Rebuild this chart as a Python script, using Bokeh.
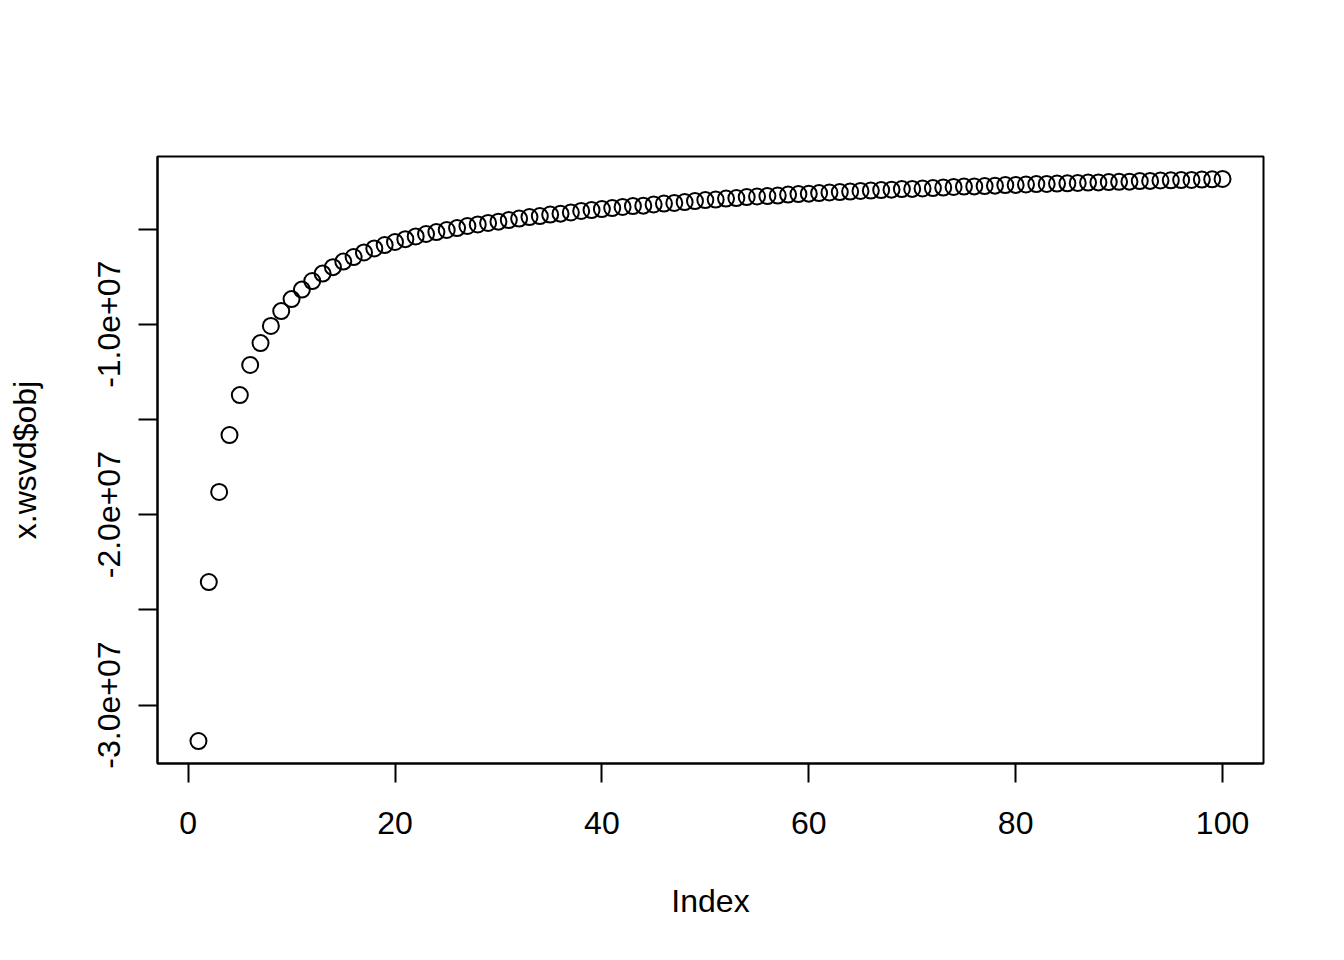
from bokeh.plotting import figure
from bokeh.models import Range1d, FixedTicker, CustomJSTickFormatter, LinearAxis
from bokeh.embed import file_html
from bokeh.resources import INLINE

# Data (in millions)
index = list(range(1, 101))
obj_millions = [
    -31.89, -23.54, -18.81, -15.82, -13.72, -12.14, -10.99, -10.09, -9.31, -8.68,
    -8.18, -7.73, -7.34, -7.00, -6.71, -6.47, -6.23, -6.02, -5.84, -5.68,
    -5.53, -5.39, -5.26, -5.16, -5.05, -4.95, -4.84, -4.76, -4.68, -4.61,
    -4.53, -4.45, -4.37, -4.32, -4.24, -4.19, -4.13, -4.05, -4.00, -3.95,
    -3.90, -3.84, -3.79, -3.77, -3.71, -3.66, -3.63, -3.58, -3.53, -3.48,
    -3.45, -3.40, -3.37, -3.32, -3.29, -3.27, -3.24, -3.19, -3.16, -3.14,
    -3.11, -3.08, -3.06, -3.03, -3.00, -2.98, -2.95, -2.93, -2.90, -2.89,
    -2.87, -2.85, -2.82, -2.79, -2.77, -2.76, -2.74, -2.72, -2.69, -2.68,
    -2.66, -2.64, -2.63, -2.61, -2.60, -2.58, -2.56, -2.55, -2.53, -2.52,
    -2.51, -2.48, -2.47, -2.45, -2.44, -2.43, -2.42, -2.40, -2.39, -2.37,
]
obj = [v * 1e6 for v in obj_millions]

x_ticks = [0, 20, 40, 60, 80, 100]
y_ticks = [-3.0e7, -2.5e7, -2.0e7, -1.5e7, -1.0e7, -5.0e6]
y_tick_labels = {"-30000000": "-3.0e+07", "-20000000": "-2.0e+07", "-10000000": "-1.0e+07"}

FONT = "Liberation Sans"

# R-style 4% range padding
xlo, xhi = min(index), max(index)
xpad = 0.04 * (xhi - xlo)
ylo, yhi = min(obj), max(obj)
ypad = 0.04 * (yhi - ylo)

p = figure(
    width=1328, height=944,
    frame_width=1106, frame_height=607,
    min_border_left=157, min_border_right=65,
    min_border_top=156, min_border_bottom=181,
    x_range=Range1d(xlo - xpad, xhi + xpad),
    y_range=Range1d(ylo - ypad, yhi + ypad),
    output_backend="svg", toolbar_location=None,
    x_axis_location=None, y_axis_location=None,
)
p.grid.visible = False
p.outline_line_color = "black"
p.outline_line_width = 2
p.background_fill_color = "white"
p.border_fill_color = "white"

xaxis = LinearAxis(
    ticker=FixedTicker(ticks=x_ticks),
    axis_label="Index",
)
yaxis = LinearAxis(
    ticker=FixedTicker(ticks=y_ticks),
    axis_label="x.wsvd$obj",
    formatter=CustomJSTickFormatter(
        args=dict(labs=y_tick_labels),
        code="""
        const k = String(Math.round(tick));
        return (k in labs) ? labs[k] : "";
        """,
    ),
)
for ax in (xaxis, yaxis):
    ax.axis_line_color = "black"
    ax.axis_line_width = 2
    ax.major_tick_line_color = "black"
    ax.major_tick_line_width = 2
    ax.major_tick_out = 19
    ax.major_tick_in = 0
    ax.minor_tick_line_color = None
    ax.major_label_text_font = FONT
    ax.major_label_text_font_size = "32px"
    ax.major_label_text_color = "black"
    ax.axis_label_text_font = FONT
    ax.axis_label_text_font_size = "32px"
    ax.axis_label_text_font_style = "normal"
    ax.axis_label_text_color = "black"

xaxis.major_label_standoff = 29
xaxis.axis_label_standoff = 46
yaxis.major_label_orientation = "vertical"
yaxis.major_label_standoff = 18
yaxis.axis_label_standoff = 53

p.add_layout(xaxis, "below")
p.add_layout(yaxis, "left")

p.scatter(index, obj, marker="circle", size=16, fill_color=None,
          line_color="black", line_width=2)

open("out.html", "w").write(file_html(p, INLINE))
